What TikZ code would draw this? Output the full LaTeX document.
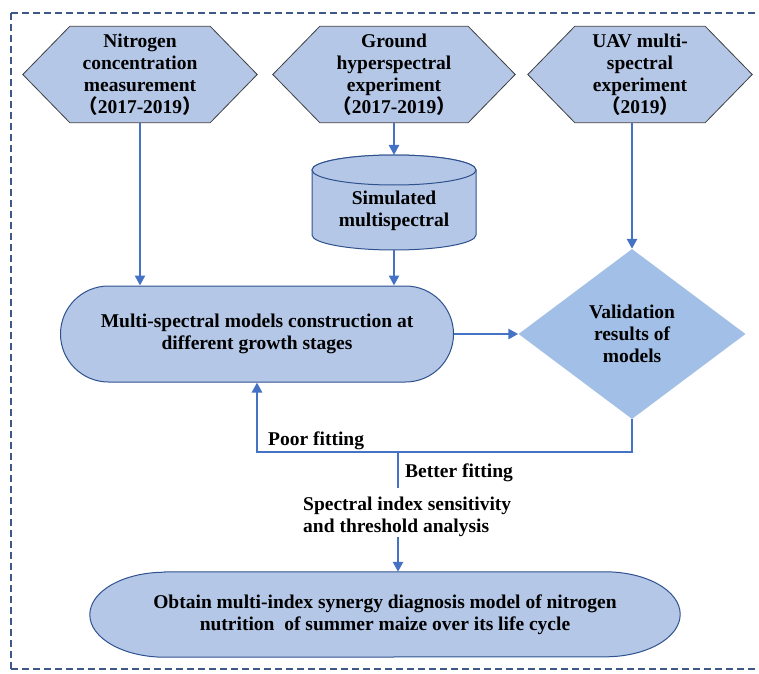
\documentclass[tikz,border=0pt]{standalone}
\usepackage{fontspec}
\setmainfont{Liberation Serif}
\newfontfamily\cjk{Noto Sans CJK SC}
\usetikzlibrary{arrows.meta,shapes.geometric,shapes.misc,backgrounds}
\definecolor{boxblue}{RGB}{180,199,231}
\definecolor{diamblue}{RGB}{162,191,231}
\definecolor{arrowblue}{RGB}{68,114,196}
\definecolor{edgeblue}{RGB}{47,82,143}
\definecolor{framblue}{RGB}{62,88,135}
\newcommand{\yr}[1]{{\cjk （}#1{\cjk ）}}
\newcommand{\hexdraw}[1]{\draw[hexline] (#1.west) -- ([xshift=47pt]#1.north west) -- ([xshift=-47pt]#1.north east) -- (#1.east) -- ([xshift=-47pt]#1.south east) -- ([xshift=47pt]#1.south west) -- cycle;}
\tikzset{
  every node/.style={font=\bfseries\fontsize{19.5}{22}\selectfont, align=center, inner sep=0pt},
  hexbox/.style={minimum height=96pt},
  hexline/.style={draw=black!75, line width=0.8pt, fill=boxblue},
  flow/.style={draw=arrowblue, line width=2.6pt, -{Triangle[length=10pt,width=10pt]}},
  plainflow/.style={draw=arrowblue, line width=2.6pt},
  boxline/.style={draw=edgeblue, line width=1pt, fill=boxblue},
  frameline/.style={draw=framblue, line width=1.2pt, dash pattern=on 7pt off 4pt}
}
\begin{document}
\begin{tikzpicture}[x=1pt,y=1pt]
\useasboundingbox (0,0) rectangle (759,673);
\clip (0,0) rectangle (759,673);
%frame, open on the right
\draw[frameline] (11,660) -- (800,660);
\draw[frameline] (11,660) -- (11,4);
\draw[frameline] (11,4) -- (800,4);
%inputs
\node[hexbox, minimum width=234pt] (nitro) at (140,598.5) {Nitrogen\\concentration\\measurement\\\yr{2017-2019}};
\node[hexbox, minimum width=242pt] (ground) at (394,598.5) {Ground\\hyperspectral\\experiment\\\yr{2017-2019}};
\node[hexbox, minimum width=224pt] (uav) at (640,598.5) {UAV multi-\\spectral\\experiment\\\yr{2019}};
%simulated
\coordinate (simN) at (394,518);
\coordinate (simS) at (394,423);
\draw[boxline] (312,503) -- (312,438) arc[start angle=180,end angle=360,x radius=82pt,y radius=15pt] -- (476,503) arc[start angle=0,end angle=180,x radius=82pt,y radius=15pt] -- cycle;
\draw[boxline] (394,503) ellipse [x radius=82pt, y radius=15pt];
\node (sim) at (394,462) {Simulated\\multispectral};
%models
\node[rounded rectangle, boxline, minimum width=393pt, minimum height=96pt] (models) at (257,339) {Multi-spectral models construction at\\different growth stages};
\node[diamond, fill=diamblue, minimum width=227pt, minimum height=170pt] (valid) at (632,339) {Validation\\results of\\models};
%result
\node[minimum width=590pt, minimum height=85pt] (obtain) at (385,58.5) {Obtain multi-index synergy diagnosis model of nitrogen\\nutrition \ of summer maize over its life cycle};
\node[anchor=west, align=left] (sens) at (303,156) {Spectral index sensitivity\\and threshold analysis};
\node[anchor=west] (poor) at (268,232) {Poor fitting};
\node[anchor=west] (better) at (405,200) {Better fitting};
\coordinate (junc) at (398,221);
\begin{scope}[on background layer]
\hexdraw{nitro}
\hexdraw{ground}
\hexdraw{uav}
\draw[boxline] ([xshift=75pt]obtain.north west) -- ([xshift=-75pt]obtain.north east) arc[start angle=90,end angle=-90,x radius=75pt,y radius=42.5pt] -- ([xshift=75pt]obtain.south west) arc[start angle=270,end angle=90,x radius=75pt,y radius=42.5pt] -- cycle;
\end{scope}
%connectors
\draw[flow] (nitro.south) -- (nitro.south |- models.north);
\draw[flow] (ground.south) -- (simN);
\draw[flow] (simS) -- (simS |- models.north);
\draw[flow] (uav.south -| valid.north) -- (valid.north);
\draw[flow] (models.east) -- (valid.west);
\draw[flow] (valid.south) |- (junc) -| (models.south);
\draw[plainflow] (junc) -- ++(0,-36);
\draw[flow] (junc |- sens.south) -- (junc |- obtain.north);
\end{tikzpicture}
\end{document}
